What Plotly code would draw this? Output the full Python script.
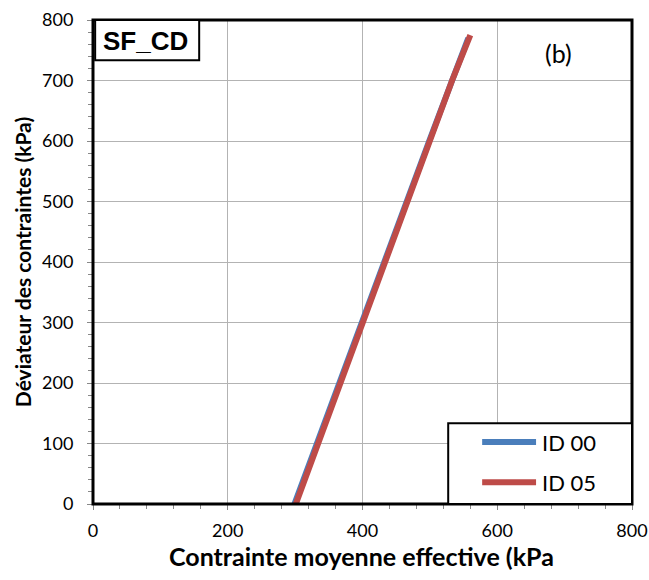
import plotly.graph_objects as go

# Data
p_id00 = [299, 332, 365, 399, 432, 465, 499, 533, 557]
q_id00 = [0, 100, 200, 300, 400, 500, 600, 700, 770]
p_id05 = [301, 334, 367, 400, 433, 463, 499, 533, 560]
q_id05 = [0, 100, 200, 300, 400, 495, 600, 700, 775]

series_names = ["ID 00", "ID 05"]
series_colors = ["#4a7ebb", "#be4b48"]
x_ticks = [0, 200, 400, 600, 800]
y_ticks = [0, 100, 200, 300, 400, 500, 600, 700, 800]

font_main = "Lato, 'Open Sans', Arial, sans-serif"

fig = go.Figure()
fig.add_trace(go.Scatter(x=p_id00, y=q_id00, mode="lines", name=series_names[0],
                         line=dict(color=series_colors[0], width=6), showlegend=False))
fig.add_trace(go.Scatter(x=p_id05, y=q_id05, mode="lines", name=series_names[1],
                         line=dict(color=series_colors[1], width=6), showlegend=False))

axis_common = dict(
    showgrid=True, gridcolor="#b3b3b3", gridwidth=1,
    showline=True, linecolor="#888888", linewidth=1,
    ticks="outside", ticklen=5, tickcolor="#888888", tickwidth=1,
    zeroline=False, mirror=False, automargin=False,
    tickfont=dict(family=font_main, size=18, color="#000000"),
)

fig.update_xaxes(range=[0, 800], tickvals=x_ticks, **axis_common, ticklabelstandoff=5,
                 minor=dict(dtick=40, ticks="outside", ticklen=4, tickcolor="#888888", showgrid=False))
fig.update_yaxes(range=[0, 800], tickvals=y_ticks, **axis_common, ticklabelstandoff=10,
                 minor=dict(dtick=20, ticks="outside", ticklen=4, tickcolor="#888888", showgrid=False),
                 title=dict(text="<b>Déviateur des contraintes (kPa)</b>",
                            font=dict(family=font_main, size=21, color="#000000"), standoff=4))

# plot area spans x 93..632 px and y 20..504 px
shapes = [
    dict(type="rect", xref="paper", yref="paper", x0=0, x1=1, y0=0, y1=1,
         line=dict(color="#000000", width=3), fillcolor="rgba(0,0,0,0)", layer="above"),
    # SF_CD box
    dict(type="rect", xref="paper", yref="paper", x0=0.004, x1=0.197, y0=0.917, y1=1.0,
         line=dict(color="#000000", width=2), fillcolor="white", layer="above"),
    # legend box
    dict(type="rect", xref="paper", yref="paper", x0=0.659, x1=1.0, y0=0.0, y1=0.167,
         line=dict(color="#000000", width=2), fillcolor="white", layer="above"),
]
legend_y = [0.128, 0.045]
annotations = [
    dict(text="<b>Contrainte moyenne effective (kPa</b>", xref="paper", yref="paper",
         x=0.499, y=-0.107, xanchor="center", yanchor="middle", showarrow=False,
         font=dict(family=font_main, size=25, color="#000000")),
    dict(text="<b>SF_CD</b>", xref="paper", yref="paper", x=0.098, y=0.957,
         xanchor="center", yanchor="middle", showarrow=False,
         font=dict(family="Liberation Sans, Arial, sans-serif", size=26, color="#000000")),
    dict(text="(b)", xref="paper", yref="paper", x=0.863, y=0.932,
         xanchor="center", yanchor="middle", showarrow=False,
         font=dict(family=font_main, size=25, color="#000000")),
]
for name, color, ly in zip(series_names, series_colors, legend_y):
    shapes.append(dict(type="line", xref="paper", yref="paper", x0=0.722, x1=0.822, y0=ly, y1=ly,
                       line=dict(color=color, width=6), layer="above"))
    annotations.append(dict(text=name, xref="paper", yref="paper", x=0.829, y=ly,
                            xanchor="left", yanchor="middle", showarrow=False,
                            font=dict(family=font_main, size=22, color="#000000")))

fig.update_layout(
    width=649, height=580,
    margin=dict(l=93, r=17, t=20, b=76),
    plot_bgcolor="white", paper_bgcolor="white",
    showlegend=False,
    shapes=shapes,
    annotations=annotations,
)

fig.write_html("out.html", config={"displayModeBar": False},
               post_script="document.body.style.margin='0';document.body.style.overflow='hidden';")
